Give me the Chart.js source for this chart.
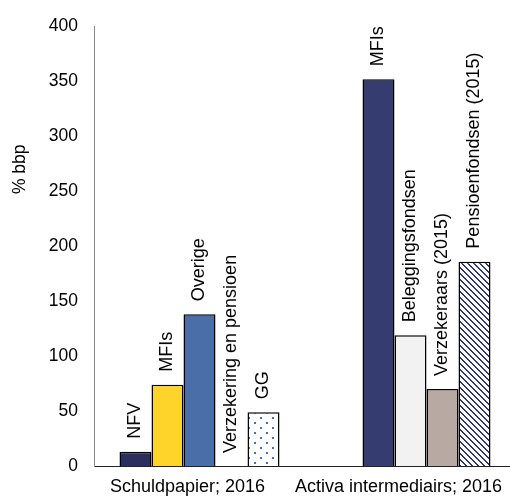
<!DOCTYPE html>
<html>
<head>
<meta charset="utf-8">
<script src="https://cdn.jsdelivr.net/npm/chart.js@4/dist/chart.umd.min.js"></script>
<style>
  html, body { margin: 0; padding: 0; overflow: hidden; background: #fff; }
  canvas { display: block; }
</style>
</head>
<body>
<canvas id="myChart" width="516" height="497"></canvas>
<script>
// Categories and values
var groups = ["Schuldpapier; 2016", "Activa intermediairs; 2016"];
var group1Labels = ["NFV", "MFIs", "Overige", "Verzekering en pensioen", "GG"];
var group1Values = [13, 74, 138, 0, 49];
var group2Labels = ["MFIs", "Beleggingsfondsen", "Verzekeraars (2015)", "Pensioenfondsen (2015)"];
var group2Values = [352, 119, 70, 186];
var yTicks = [0, 50, 100, 150, 200, 250, 300, 350, 400];
var yTitle = "% bbp";

var FONT = "'Liberation Sans', Arial, sans-serif";
var canvas = document.getElementById("myChart");
var ctx = canvas.getContext("2d");

// fill patterns
function dotPattern() {
  var c = document.createElement("canvas");
  c.width = 12; c.height = 10;
  var x = c.getContext("2d");
  x.fillStyle = "#fff"; x.fillRect(0, 0, 12, 10);
  x.fillStyle = "#4a6ea8";
  x.fillRect(2, 2, 2, 2);
  x.fillRect(8, 7, 2, 2);
  return ctx.createPattern(c, "repeat");
}
function hatchPattern() {
  var c = document.createElement("canvas");
  c.width = 6; c.height = 6;
  var x = c.getContext("2d");
  x.fillStyle = "#fff"; x.fillRect(0, 0, 6, 6);
  x.fillStyle = "#2f3670";
  for (var i = 0; i < 6; i++) {
    x.fillRect(i, i, 2, 1);
  }
  x.fillRect(0, 5, 1, 1);
  return ctx.createPattern(c, "repeat");
}

var group1Colors = ["#2b2f5e", "#ffd42a", "#4a6ea8", "#ffffff", dotPattern()];
var group2Colors = ["#353c70", "#f2f2f2", "#b8aaa2", hatchPattern()];

// 5 bar slots per group; group 2 leaves the first slot empty
var datasets = [];
for (let i = 0; i < group1Values.length; i++) {
  var j = i - 1;
  datasets.push({
    data: [group1Values[i], j >= 0 ? group2Values[j] : null],
    names: [group1Labels[i], j >= 0 ? group2Labels[j] : ""],
    backgroundColor: [group1Colors[i], j >= 0 ? group2Colors[j] : "#fff"],
    borderColor: "#000",
    borderWidth: 1.5
  });
}

// rotated text above each bar + rotated y title
var barLabels = {
  id: "barLabels",
  afterDatasetsDraw: function (chart) {
    var c = chart.ctx;
    c.save();
    c.font = "18px " + FONT;
    c.fillStyle = "#000";
    c.textAlign = "left";
    c.textBaseline = "middle";
    chart.data.datasets.forEach(function (ds, di) {
      chart.getDatasetMeta(di).data.forEach(function (el, k) {
        if (ds.data[k] === null) return;
        c.save();
        c.translate(el.x, el.y - 13);
        c.rotate(-Math.PI / 2);
        c.fillText(ds.names[k], 0, 0);
        c.restore();
      });
    });
    // y axis title
    var a = chart.chartArea;
    c.font = "17.5px " + FONT;
    c.textAlign = "center";
    c.translate(20, (a.top + a.bottom) / 2 - 77);
    c.rotate(-Math.PI / 2);
    c.fillText(yTitle, 0, 0);
    c.restore();
  }
};

new Chart(canvas, {
  type: "bar",
  data: { labels: groups, datasets: datasets },
  plugins: [barLabels],
  options: {
    responsive: false,
    animation: false,
    layout: { padding: { left: 0, top: 15, right: 0, bottom: 0 } },
    plugins: { legend: { display: false }, tooltip: { enabled: false } },
    datasets: { bar: { categoryPercentage: 160 / 211, barPercentage: 1 } },
    scales: {
      x: {
        afterFit: function (axis) {
          axis.height = 31;
          axis.paddingLeft = 0;
          axis.paddingRight = 0;
        },
        grid: { display: false, drawTicks: false },
        border: { display: true, color: "#222", width: 1 },
        ticks: { color: "#000", font: { family: FONT, size: 18 }, padding: 10, labelOffset: -12, maxRotation: 0, autoSkip: false }
      },
      y: {
        min: 0,
        max: 400,
        afterFit: function (axis) { axis.width = 94; },
        afterBuildTicks: function (axis) {
          axis.ticks = yTicks.map(function (v) { return { value: v }; });
        },
        grid: { display: false, drawTicks: false },
        border: { display: true, color: "#888", width: 1 },
        ticks: { color: "#000", font: { family: FONT, size: 17.5 }, padding: 16 }
      }
    }
  }
});
</script>
</body>
</html>
